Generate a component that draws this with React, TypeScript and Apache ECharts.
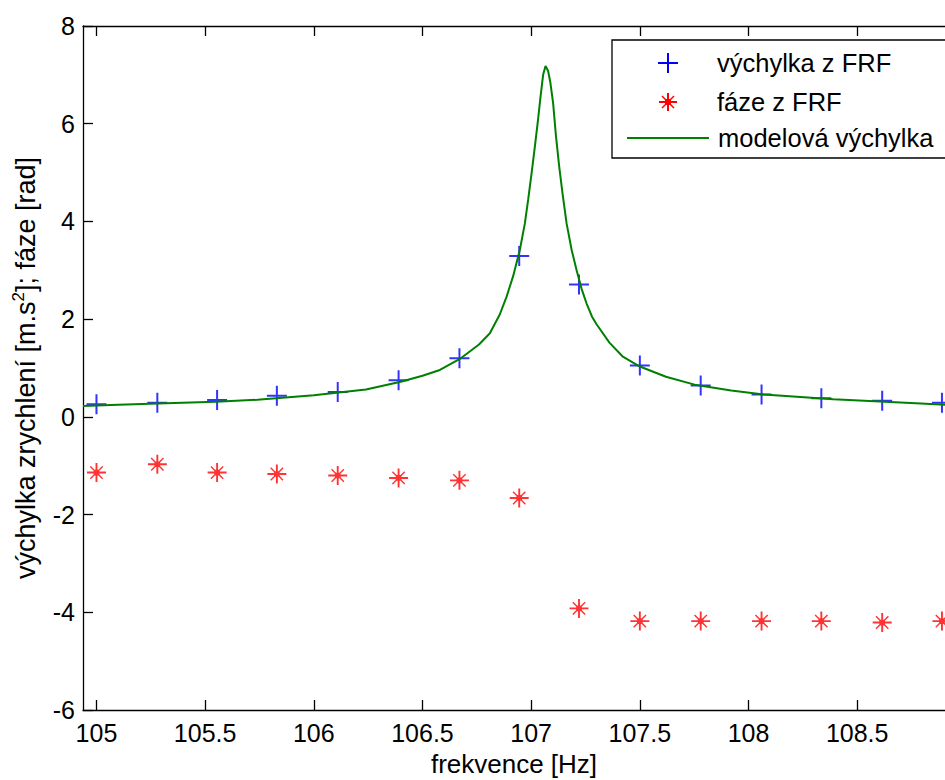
import React, { useEffect, useRef } from "react";
import * as echarts from "echarts";

const FONT = '"Liberation Sans", Arial, sans-serif';

const xTicks = [105, 105.5, 106, 106.5, 107, 107.5, 108, 108.5];

const frfFreq = [105.0, 105.28, 105.555, 105.83, 106.11, 106.39, 106.67, 106.945, 107.22, 107.5, 107.78, 108.06, 108.335, 108.615, 108.89];
const frfAmp = [0.26, 0.29, 0.345, 0.43, 0.51, 0.75, 1.2, 3.29, 2.71, 1.05, 0.64, 0.46, 0.38, 0.33, 0.29];
const frfPhase = [-1.14, -0.97, -1.14, -1.17, -1.2, -1.25, -1.3, -1.66, -3.92, -4.18, -4.18, -4.18, -4.18, -4.21, -4.18];

const modelFreq = [
  104.938, 105.1, 105.32, 105.55, 105.74, 106.0, 106.24, 106.4, 106.5, 106.58, 106.67, 106.76, 106.81,
  106.856, 106.887, 106.917, 106.948, 106.971, 106.986, 107.002, 107.017, 107.03, 107.043, 107.055,
  107.066, 107.078, 107.088, 107.101, 107.114, 107.129, 107.145, 107.163, 107.186, 107.209, 107.232,
  107.255, 107.28, 107.3, 107.36, 107.42, 107.5, 107.62, 107.76, 107.92, 108.07, 108.39, 108.77, 108.904,
];
const modelAmp = [
  0.22, 0.25, 0.28, 0.31, 0.35, 0.44, 0.56, 0.72, 0.84, 0.96, 1.18, 1.48, 1.71,
  2.1, 2.46, 2.88, 3.42, 3.96, 4.44, 4.99, 5.53, 6.02, 6.55, 7.0,
  7.18, 7.08, 6.85, 6.42, 5.75, 5.12, 4.55, 3.96, 3.42, 3.0, 2.62,
  2.32, 2.05, 1.9, 1.52, 1.24, 1.03, 0.82, 0.65, 0.54, 0.46, 0.36, 0.28, 0.25,
];

const legendLabels = ["výchylka z FRF", "fáze z FRF", "modelová výchylka"];

const PLUS_PATH = "path://M9,0 H11 V9 H20 V11 H11 V20 H9 V11 H0 V9 H9 Z";
const STAR_PATH =
  "path://M0,9 H20 V11 H0 Z M9,0 H11 V20 H9 Z M7,7 H13 V13 H7 Z " +
  "M4.03,2.97 L17.03,15.97 L15.97,17.03 L2.97,4.03 Z " +
  "M17.03,4.03 L4.03,17.03 L2.97,15.97 L15.97,2.97 Z";

export default function App() {
  const ref = useRef<HTMLDivElement>(null);
  useEffect(() => {
    const chart = echarts.init(ref.current!, null, { renderer: "svg" });
    const textStyle = { fontFamily: FONT, fontSize: 25.5, fill: "#000" };
    const axisLineStyle = { color: "#000", width: 1.3 };
    const option: any = {
      animation: false,
      backgroundColor: "#fff",
      grid: { left: 83, top: 26, right: 0, bottom: 70, containLabel: false, outerBoundsMode: "none" },
      xAxis: [
        {
          type: "value",
          min: 104.938,
          max: 108.904,
          position: "bottom",
          name: "frekvence [Hz]",
          nameLocation: "middle",
          nameGap: 41,
          nameTextStyle: { fontFamily: FONT, fontSize: 26, color: "#000", lineHeight: 26 },
          axisLine: { show: true, onZero: false, lineStyle: axisLineStyle },
          axisTick: { show: true, inside: true, length: 10, customValues: xTicks, lineStyle: axisLineStyle },
          axisLabel: {
            show: true,
            customValues: xTicks,
            fontFamily: FONT,
            fontSize: 25,
            color: "#000",
            margin: 10,
            formatter: (v: number) => String(v),
          },
          splitLine: { show: false },
        },
        {
          type: "value",
          min: 104.938,
          max: 108.904,
          position: "top",
          axisLine: { show: true, onZero: false, lineStyle: axisLineStyle },
          axisTick: { show: true, inside: true, length: 10, customValues: xTicks, lineStyle: axisLineStyle },
          axisLabel: { show: false },
          splitLine: { show: false },
        },
      ],
      yAxis: {
        type: "value",
        min: -6,
        max: 8,
        interval: 2,
        name: "výchylka zrychlení [m.s{sup|2}]; fáze [rad]",
        nameLocation: "middle",
        nameGap: 38,
        nameTextStyle: {
          fontFamily: FONT,
          fontSize: 27,
          color: "#000",
          lineHeight: 32,
          rich: {
            sup: { fontFamily: FONT, fontSize: 17, color: "#000", verticalAlign: "top", lineHeight: 17 },
          },
        },
        axisLine: { show: true, onZero: false, lineStyle: axisLineStyle },
        axisTick: { show: true, inside: true, length: 10, lineStyle: axisLineStyle },
        axisLabel: { fontFamily: FONT, fontSize: 25, color: "#000", margin: 8 },
        splitLine: { show: false },
      },
      series: [
        {
          name: legendLabels[0],
          type: "scatter",
          xAxisIndex: 0,
          symbol: PLUS_PATH,
          symbolSize: 20,
          itemStyle: { color: "#0000ff" },
          data: frfFreq.map((f, i) => [f, frfAmp[i]]),
        },
        {
          name: legendLabels[1],
          type: "scatter",
          xAxisIndex: 0,
          symbol: STAR_PATH,
          symbolSize: 19,
          itemStyle: { color: "#ff0000" },
          data: frfFreq.map((f, i) => [f, frfPhase[i]]),
        },
        {
          name: legendLabels[2],
          type: "line",
          xAxisIndex: 0,
          showSymbol: false,
          symbol: "none",
          lineStyle: { color: "#008000", width: 2 },
          data: modelFreq.map((f, i) => [f, modelAmp[i]]),
        },
      ],
      graphic: [
        {
          type: "group",
          z: 100,
          children: [
            { type: "rect", shape: { x: 612, y: 40, width: 400, height: 118 }, style: { fill: "#fff", stroke: "#000", lineWidth: 1.3 } },
            { type: "line", shape: { x1: 658, y1: 63, x2: 678, y2: 63 }, style: { stroke: "#0000ff", lineWidth: 2 } },
            { type: "line", shape: { x1: 668, y1: 53, x2: 668, y2: 73 }, style: { stroke: "#0000ff", lineWidth: 2 } },
            { type: "line", shape: { x1: 659, y1: 102, x2: 677, y2: 102 }, style: { stroke: "#ff0000", lineWidth: 2 } },
            { type: "line", shape: { x1: 668, y1: 93, x2: 668, y2: 111 }, style: { stroke: "#ff0000", lineWidth: 2 } },
            { type: "line", shape: { x1: 662, y1: 96, x2: 674, y2: 108 }, style: { stroke: "#ff0000", lineWidth: 1.5 } },
            { type: "line", shape: { x1: 674, y1: 96, x2: 662, y2: 108 }, style: { stroke: "#ff0000", lineWidth: 1.5 } },
            { type: "rect", shape: { x: 665, y: 99, width: 6, height: 6 }, style: { fill: "#ff0000" } },
            { type: "line", shape: { x1: 627, y1: 138, x2: 709, y2: 138 }, style: { stroke: "#008000", lineWidth: 2 } },
            { type: "text", x: 717, y: 63, style: { ...textStyle, text: legendLabels[0], verticalAlign: "middle", align: "left" } },
            { type: "text", x: 717, y: 102, style: { ...textStyle, text: legendLabels[1], verticalAlign: "middle", align: "left" } },
            { type: "text", x: 718, y: 138, style: { ...textStyle, text: legendLabels[2], verticalAlign: "middle", align: "left" } },
          ],
        },
      ],
    };
    chart.setOption(option);
    return () => chart.dispose();
  }, []);
  return (
    <div style={{ position: "fixed", left: 0, top: 0, width: 945, height: 780, background: "#fff", overflow: "hidden" }}>
      <div ref={ref} style={{ width: 945, height: 780 }} />
    </div>
  );
}
